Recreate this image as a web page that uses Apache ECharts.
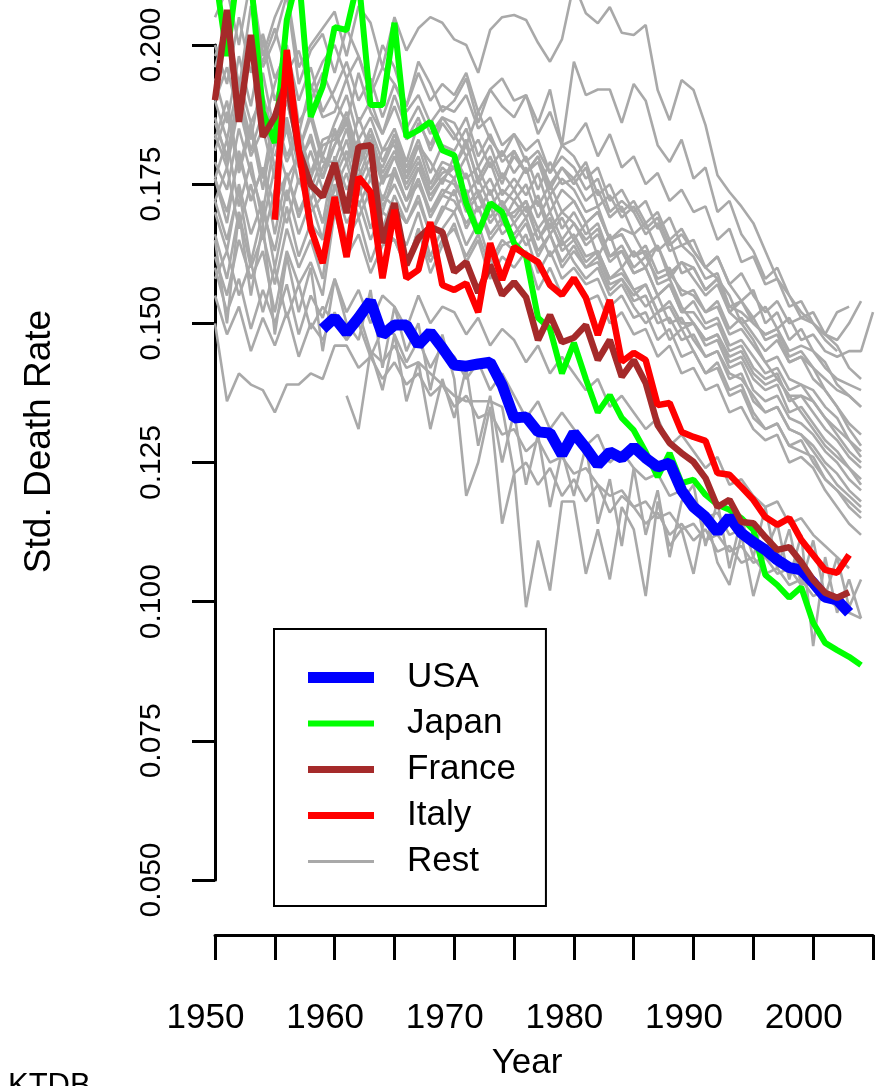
<!DOCTYPE html>
<html><head><meta charset="utf-8">
<script src="https://cdn.jsdelivr.net/npm/echarts@6/dist/echarts.min.js"></script>
<style>html,body{margin:0;padding:0;background:#fff}#c{width:876px;height:1086px}</style>
</head><body><div id="c"></div>
<script>
const yTickValues = [0.050, 0.075, 0.100, 0.125, 0.150, 0.175, 0.200];
const xTickValues = [1950, 1955, 1960, 1965, 1970, 1975, 1980, 1985, 1990, 1995, 2000, 2005];
const xLabelValues = [1950, 1960, 1970, 1980, 1990, 2000];

const usaStart = 1959;
const usaValues = [0.149,0.151,0.1483,0.151,0.154,0.1479,0.1497,0.1497,0.1461,0.1484,0.1456,0.1425,0.1423,0.1427,0.143,0.1389,0.133,0.1332,0.1305,0.1303,0.1264,0.1303,0.1276,0.1246,0.1269,0.1258,0.1278,0.1258,0.1242,0.1249,0.120,0.117,0.1152,0.1125,0.1152,0.1123,0.1107,0.1093,0.1075,0.1061,0.1057,0.1034,0.1008,0.1003,0.098];
const japanStart = 1950;
const japanValues = [0.213,0.198,0.215,0.212,0.188,0.1824,0.2045,0.213,0.1871,0.1925,0.2032,0.2027,0.212,0.1892,0.1892,0.204,0.1835,0.1847,0.1862,0.1811,0.1802,0.1716,0.1662,0.1716,0.170,0.1644,0.162,0.151,0.149,0.141,0.1465,0.140,0.134,0.1371,0.133,0.1308,0.1269,0.1224,0.1267,0.1213,0.1219,0.1192,0.1174,0.1165,0.115,0.1129,0.1048,0.103,0.1007,0.1026,0.0962,0.0926,0.0913,0.0901,0.0886];
const franceStart = 1950;
const franceValues = [0.1901,0.2063,0.1862,0.2018,0.1835,0.1871,0.1937,0.1811,0.1749,0.1727,0.1788,0.1698,0.1817,0.182,0.1644,0.1716,0.1605,0.1653,0.1673,0.1664,0.1592,0.161,0.1555,0.1605,0.1551,0.1574,0.1547,0.147,0.1515,0.1466,0.1474,0.1497,0.1434,0.147,0.1404,0.1434,0.1393,0.1317,0.1285,0.1267,0.1251,0.1222,0.117,0.1183,0.1143,0.1141,0.1116,0.1093,0.1098,0.1071,0.1039,0.1016,0.1007,0.1017];
const italyStart = 1955;
const italyValues = [0.1686,0.1991,0.1811,0.1671,0.1608,0.1727,0.1619,0.1763,0.1736,0.1581,0.1704,0.1581,0.1596,0.1682,0.1569,0.156,0.1572,0.152,0.1644,0.1578,0.1637,0.1623,0.161,0.1569,0.1551,0.1581,0.1546,0.1479,0.1542,0.1431,0.1447,0.1434,0.1353,0.1357,0.1305,0.1296,0.1289,0.1231,0.1228,0.1206,0.1183,0.1152,0.1138,0.115,0.1111,0.1084,0.1057,0.1052,0.1084];

const restStarts = [1950,1950,1950,1950,1950,1950,1950,1950,1950,1950,1950,1950,1950,1950,1950,1950,1950,1955,1950,1950,1950,1950,1950,1950,1961,1950,1950,1950];
const restValues = [
 [.198,.203,.192,.207,.196,.201,.209,.193,.199,.202,.195,.203,.198,.192,.200,.196,.189,.197,.193,.188,.190,.194,.186,.192,.189,.187,.191,.184,.188,.182,.183,.186,.180,.184,.178,.180,.175,.177,.172,.174,.170,.171,.165,.167,.161,.162,.157,.158,.153,.154,.150,.148,.146,.142,.140],
 [.190,.196,.187,.199,.185,.193,.200,.186,.190,.195,.190,.186,.195,.188,.184,.191,.185,.189,.184,.187,.186,.182,.188,.183,.180,.184,.179,.181,.177,.182,.180,.176,.178,.172,.174,.170,.172,.167,.169,.164,.165,.160,.162,.157,.154,.156,.150,.152,.147,.149,.145,.143,.139,.137,.135],
 [.186,.180,.192,.183,.195,.184,.190,.181,.188,.180,.186,.191,.183,.187,.181,.185,.179,.186,.182,.187,.184,.180,.183,.178,.181,.177,.180,.174,.179,.175,.176,.172,.174,.169,.171,.166,.168,.163,.165,.159,.160,.156,.158,.152,.150,.151,.147,.148,.143,.144,.140,.138,.135,.132,.130],
 [.183,.190,.178,.186,.176,.188,.180,.185,.177,.183,.184,.179,.187,.181,.178,.183,.177,.182,.179,.175,.180,.176,.178,.173,.177,.174,.178,.171,.175,.170,.172,.168,.170,.165,.166,.162,.164,.159,.160,.155,.156,.152,.153,.148,.149,.146,.143,.144,.140,.139,.138,.135,.133,.129,.126],
 [.179,.174,.185,.177,.170,.183,.176,.180,.172,.178,.182,.186,.178,.183,.176,.180,.175,.179,.174,.177,.178,.173,.176,.171,.174,.172,.175,.169,.173,.167,.170,.166,.168,.162,.163,.159,.160,.155,.157,.152,.152,.149,.150,.145,.146,.142,.140,.141,.136,.137,.134,.131,.129,.126,.124],
 [.176,.168,.181,.172,.178,.166,.177,.170,.175,.168,.180,.174,.178,.171,.176,.177,.172,.175,.170,.173,.176,.170,.173,.168,.171,.169,.172,.165,.168,.164,.166,.162,.163,.158,.160,.156,.157,.152,.153,.149,.150,.146,.147,.142,.143,.138,.136,.137,.133,.132,.130,.127,.125,.122,.120],
 [.172,.165,.174,.161,.170,.163,.174,.166,.172,.165,.178,.170,.175,.167,.173,.171,.168,.173,.166,.170,.174,.167,.171,.165,.168,.166,.169,.163,.166,.161,.164,.160,.161,.156,.158,.154,.155,.150,.151,.147,.148,.144,.145,.140,.141,.136,.134,.135,.131,.130,.128,.125,.123,.120,.118],
 [.176,.183,.171,.179,.168,.178,.172,.181,.174,.180,.177,.183,.175,.180,.172,.178,.172,.176,.170,.174,.173,.177,.170,.174,.168,.172,.169,.173,.167,.170,.168,.165,.167,.162,.164,.160,.162,.158,.159,.156,.155,.152,.154,.149,.151,.148,.145,.147,.143,.144,.142,.140,.138,.137,.135],
 [.170,.163,.175,.166,.172,.160,.171,.162,.168,.165,.175,.168,.172,.165,.170,.168,.164,.170,.162,.167,.170,.164,.168,.161,.165,.163,.166,.159,.163,.158,.160,.157,.158,.153,.155,.151,.152,.147,.149,.144,.145,.141,.142,.137,.138,.133,.131,.132,.128,.127,.126,.122,.120,.117,.115],
 [.166,.158,.170,.160,.166,.157,.167,.160,.165,.158,.173,.165,.169,.161,.167,.165,.160,.167,.159,.164,.168,.161,.165,.158,.162,.160,.163,.156,.160,.155,.158,.154,.155,.150,.152,.148,.149,.144,.146,.141,.142,.138,.139,.134,.135,.131,.129,.130,.125,.126,.124,.120,.117,.114,.112],
 [.172,.178,.167,.175,.165,.174,.168,.176,.170,.173,.172,.177,.169,.174,.167,.173,.168,.172,.166,.171,.170,.174,.167,.171,.166,.168,.171,.165,.169,.163,.165,.168,.162,.166,.160,.163,.160,.164,.158,.161,.158,.155,.157,.152,.154,.151,.153,.149,.151,.147,.148,.145,.144,.145,.145,.152],
 [.194,.186,.198,.189,.201,.190,.196,.184,.193,.187,.188,.194,.186,.190,.184,.189,.183,.187,.181,.186,.183,.187,.180,.184,.179,.181,.177,.180,.174,.178,.175,.178,.171,.173,.169,.171,.167,.169,.164,.166,.163,.160,.162,.157,.159,.155,.152,.154,.150,.151,.150,.148,.152,.153],
 [.184,.178,.189,.180,.185,.176,.186,.179,.183,.176,.182,.187,.179,.184,.177,.181,.176,.182,.175,.179,.178,.183,.175,.179,.173,.176,.173,.177,.170,.174,.172,.168,.170,.165,.167,.166,.162,.164,.159,.161,.160,.156,.158,.153,.152,.150,.148,.149,.145,.146,.145,.142,.140,.139,.138],
 [.200,.193,.205,.195,.202,.194,.199,.190,.196,.188,.192,.197,.190,.194,.187,.193,.188,.191,.186,.189,.188,.191,.185,.187,.182,.184,.181,.183,.177,.180,.178,.174,.176,.170,.172,.170,.166,.168,.163,.164,.162,.158,.159,.153,.154,.150,.148,.149,.144,.145,.142,.138,.135,.131,.128],
 [.181,.188,.177,.185,.174,.186,.179,.184,.176,.182,.183,.188,.180,.185,.179,.184,.178,.183,.177,.182,.181,.185,.178,.182,.176,.180,.177,.179,.173,.176,.174,.170,.171,.165,.166,.162,.163,.157,.158,.153,.150,.147,.148,.143,.144,.140,.138,.139,.134,.135,.132,.129,.127,.124,.122],
 [.162,.155,.165,.158,.163,.152,.163,.157,.161,.155,.170,.162,.166,.159,.164,.165,.160,.167,.161,.165,.167,.162,.166,.160,.164,.165,.168,.162,.166,.160,.163,.160,.162,.157,.158,.155,.157,.152,.154,.150,.150,.147,.148,.144,.145,.141,.139,.140,.137,.137,.136,.133,.131,.129,.127],
 [.187,.179,.191,.181,.188,.178,.185,.175,.181,.174,.176,.181,.173,.178,.171,.175,.170,.176,.169,.173,.172,.168,.171,.166,.169,.170,.172,.167,.170,.165,.168,.164,.166,.161,.163,.159,.160,.155,.157,.152,.154,.150,.151,.146,.147,.144,.141,.142,.138,.139,.136,.133,.130,.127,.125],
 [.180,.187,.178,.184,.176,.185,.179,.183,.176,.181,.182,.176,.180,.174,.178,.176,.180,.173,.176,.171,.174,.170,.172,.166,.169,.165,.161,.163,.158,.159,.156,.153,.155,.150,.151,.147,.144,.145,.141,.140,.137,.134,.135,.131,.130,.127,.124,.121,.119,.117],
 [.190,.183,.194,.186,.191,.183,.190,.181,.187,.179,.179,.185,.176,.182,.175,.180,.174,.178,.172,.176,.175,.171,.174,.169,.172,.168,.164,.167,.162,.165,.161,.158,.160,.155,.157,.153,.150,.152,.147,.149,.145,.141,.143,.138,.139,.134,.131,.132,.128,.129,.125,.122,.120,.118,.116],
 [.176,.170,.180,.172,.178,.171,.177,.169,.175,.168,.174,.179,.171,.176,.170,.177,.172,.178,.173,.176,.178,.182,.176,.180,.175,.181,.177,.180,.175,.178,.176,.179,.173,.175,.170,.172,.168,.170,.165,.167,.163,.160,.158,.155,.150,.147,.143,.140,.137,.134,.131,.128,.126,.124,.121],
 [.160,.152,.158,.149,.156,.150,.157,.148,.155,.151,.158,.152,.156,.150,.155,.153,.149,.155,.150,.153,.152,.148,.151,.146,.149,.147,.143,.146,.141,.144,.141,.138,.140,.135,.137,.134,.131,.133,.128,.130,.127,.124,.126,.121,.122,.119,.117,.118,.114,.115,.112,.110,.108,.106],
 [.155,.148,.153,.145,.151,.146,.152,.144,.150,.147,.152,.147,.150,.144,.149,.148,.143,.147,.142,.146,.144,.140,.143,.138,.141,.137,.133,.136,.131,.134,.131,.128,.130,.125,.127,.124,.122,.123,.119,.120,.118,.115,.116,.112,.113,.110,.108,.109,.105,.106,.104,.102,.100,.098,.097],
 [.150,.136,.141,.139,.138,.134,.139,.139,.141,.140,.146,.146,.142,.144,.140,.143,.139,.141,.137,.139,.135,.137,.133,.134,.130,.131,.127,.129,.125,.126,.123,.124,.121,.119,.120,.117,.118,.115,.116,.113,.114,.111,.112,.109,.110,.107,.108,.105,.106,.103,.104,.101,.099],
 [.165,.150,.170,.155,.168,.148,.162,.152,.160,.145,.158,.150,.147,.156,.142,.153,.145,.150,.138,.148,.140,.119,.125,.135,.114,.123,.099,.111,.102,.118,.118,.105,.113,.104,.117,.113,.101,.118,.110,.113,.105,.116,.107,.103,.112,.101,.109,.114,.104,.112,.092,.108,.098,.104,.097],
 [.137,.131,.145,.138,.148,.136,.143,.131,.140,.133,.142,.128,.137,.125,.134,.121,.130,.117,.127,.119,.128,.114,.122,.110,.124,.112,.120,.108,.118,.121,.110,.118,.106,.115,.108,.117,.106,.113,.103,.111,.101,.108,.099,.104],
 [.158,.163,.155,.161,.152,.160,.151,.157,.149,.153,.150,.147,.152,.145,.143,.146,.142,.143,.141,.139,.137,.136,.136,.136,.135,.123,.125,.121,.124,.119,.122,.118,.121,.116,.119,.117,.114,.116,.112,.114,.111,.113,.109,.110,.107,.108,.105,.106,.103,.104,.101,.102,.099,.100],
 [.205,.210,.200,.212,.198,.205,.210,.196,.200,.203,.206,.198,.207,.204,.196,.205,.199,.203,.205,.204,.201,.200,.195,.2027,.205,.2054,.2045,.2004,.197,.201,.211,.2057,.2039,.2068,.2022,.2018,.2036,.1919,.1865,.1937,.1919,.1856,.1766,.1736,.171,.168,.163,.158,.155,.152,.150,.147,.145],
 [.196,.204,.193,.201,.197,.203,.195,.199,.192,.197,.200,.194,.198,.191,.196,.193,.189,.195,.190,.193,.191,.195,.188,.192,.194,.190,.191,.186,.192,.182,.197,.191,.192,.192,.186,.193,.190,.182,.179,.183,.176,.178,.170,.172,.166,.163,.158,.160,.155,.151,.152,.148,.147,.150,.154]
];

const toPairs = (start, vals) => vals.map((v, i) => [start + i, v]);
const textFont = "'Liberation Sans',Arial,Helvetica,sans-serif";

const series = [];
restValues.forEach((vals, k) => {
  series.push({ name: 'Rest', type: 'line', data: toPairs(restStarts[k], vals), symbol: 'none', clip: false,
    color: '#A9A9A9', lineStyle: { color: '#A9A9A9', width: 2.6 }, silent: true, z: 2 });
});
const mainDefs = [
  ['Japan', japanStart, japanValues, '#00FF00', 6, 3],
  ['USA', usaStart, usaValues, '#0000FF', 11, 4],
  ['France', franceStart, franceValues, '#A52A2A', 6.5, 5],
  ['Italy', italyStart, italyValues, '#FF0000', 6.5, 6]
];
mainDefs.forEach(([name, start, vals, col, w, z]) => {
  series.push({ name, type: 'line', data: toPairs(start, vals), symbol: 'none', clip: false,
    color: col, lineStyle: { color: col, width: w, cap: 'butt' }, silent: true, z });
});

const chart = echarts.init(document.getElementById('c'), null, { renderer: 'canvas' });
chart.setOption({
  animation: false,
  backgroundColor: '#ffffff',
  grid: { left: 215, right: 3, top: 45, bottom: 206 },
  xAxis: {
    type: 'value', min: 1950, max: 2005, interval: 5,
    offset: 55,
    name: 'Year', nameLocation: 'middle', nameGap: 111,
    nameTextStyle: { fontSize: 35, fontFamily: textFont, color: '#000', padding: [0, 34, 0, 0] },
    axisLine: { show: true, onZero: false, lineStyle: { color: '#000', width: 3 } },
    axisTick: { show: true, length: 25, lineStyle: { color: '#000', width: 3 }, customValues: xTickValues },
    axisLabel: { show: true, customValues: xLabelValues, margin: 66, fontSize: 35, fontFamily: textFont, color: '#000',
      padding: [0, 19, 0, 0], formatter: v => String(v) },
    splitLine: { show: false }
  },
  yAxis: {
    type: 'value', min: 0.05, max: 0.2, interval: 0.025,
    name: 'Std. Death Rate', nameLocation: 'middle', nameRotate: 90, nameGap: 157,
    nameTextStyle: { fontSize: 37, fontFamily: textFont, color: '#000', padding: [0, 0, 0, 42] },
    axisLine: { show: true, lineStyle: { color: '#000', width: 3 } },
    axisTick: { show: true, length: 23, lineStyle: { color: '#000', width: 3 }, customValues: yTickValues },
    axisLabel: { show: true, customValues: yTickValues, rotate: 90, margin: 48, fontSize: 30, fontFamily: textFont, color: '#000',
      formatter: v => v.toFixed(3) },
    splitLine: { show: false }
  },
  legend: {
    orient: 'vertical', left: 274, top: 629,
    padding: [31, 30, 27, 34], itemGap: 11, itemWidth: 66, itemHeight: 12,
    borderColor: '#000', borderWidth: 2, backgroundColor: '#fff',
    selectedMode: false,
    textStyle: { fontSize: 35, fontFamily: textFont, color: '#000', padding: [0, 0, 0, 28] },
    itemStyle: { borderWidth: 0 },
    data: [
      { name: 'USA', icon: 'path://M0 0H66V11H0Z' },
      { name: 'Japan', icon: 'path://M0 0H66V6H0Z' },
      { name: 'France', icon: 'path://M0 0H66V7H0Z' },
      { name: 'Italy', icon: 'path://M0 0H66V7H0Z' },
      { name: 'Rest', icon: 'path://M0 0H66V3H0Z' }
    ]
  },
  title: { text: 'KTDB', left: 8, top: 1071, padding: 0,
    textStyle: { fontSize: 31, fontWeight: 'normal', fontFamily: textFont, color: '#000' } },
  series
});
</script></body></html>
